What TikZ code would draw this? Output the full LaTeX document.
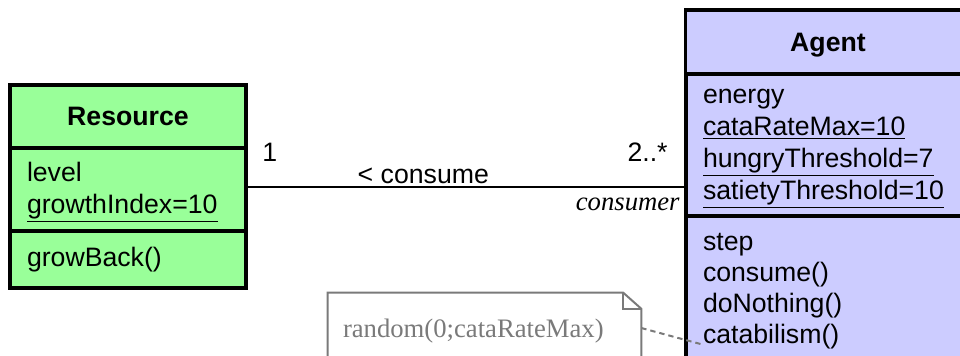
\documentclass[tikz,border=0pt]{standalone}
\usepackage{fontspec}
\setmainfont{Liberation Serif}
\setsansfont{Liberation Sans}
\usetikzlibrary{positioning}
\newlength{\px}\setlength{\px}{0.75pt}
\definecolor{resgreen}{HTML}{99FF99}
\definecolor{agentlilac}{HTML}{CCCCFF}
\definecolor{notegray}{HTML}{7A7A7A}

\begin{document}
\begin{tikzpicture}[
  x=\px, y=-\px,
  font=\sffamily\fontsize{20}{24}\selectfont,
  compart/.style={draw=black, fill=#1, line width=2.6pt, outer sep=0pt, inner ysep=0pt},
  title/.style={compart=#1, font=\sffamily\bfseries\fontsize{20}{24}\selectfont},
  fields/.style={compart=#1, align=left, inner xsep=17\px},
  lower/.style={execute at begin node={\rule{0pt}{#1\px}}},
  assoc/.style={line width=1.5pt},
  notebox/.style={draw=notegray, line width=1.5pt},
  anchorline/.style={draw=notegray, line width=1.5pt, dash pattern=on 4pt off 3pt},
]
\useasboundingbox (0,0) rectangle (960,356);
\clip (0,0) rectangle (960,356);

% Resource class
\node[title=resgreen, anchor=north west, minimum width=236\px, minimum height=63\px] (resname) at (10,85) {Resource};
\node[fields=resgreen, text width=202\px, minimum height=83\px, below=0pt of resname, lower=25] (resattr) {level\\\underline{growthIndex=10}};
\node[fields=resgreen, text width=202\px, minimum height=57\px, below=0pt of resattr] (resops) {growBack()};

% Agent class
\node[title=agentlilac, anchor=north west, minimum width=285\px, minimum height=64\px, lower=24] (agname) at (685.5,10) {Agent};
\node[fields=agentlilac, text width=250\px, minimum height=142\px, below=0pt of agname, lower=22] (agattr) {energy\\\underline{cataRateMax=10}\\\underline{hungryThreshold=7}\\\underline{satietyThreshold=10}};
\node[fields=agentlilac, text width=250\px, minimum height=144\px, below=0pt of agattr, lower=24,
  font=\sffamily\fontsize{20}{23.25}\selectfont] (agops) {step\\consume()\\doNothing()\\catabilism()};

% association
\coordinate (assocL) at ([yshift=2.5\px]resattr.east);
\draw[assoc] (assocL) -- (assocL -| agattr.west)
  node[at start, anchor=base west, xshift=11\px, yshift=25\px] {1}
  node[pos=0.403, anchor=base, yshift=3\px] {< consume}
  node[at end, anchor=base east, xshift=-13\px, yshift=25\px] {2..*}
  node[at end, anchor=base east, xshift=-1\px, yshift=-23\px, font=\rmfamily\itshape\fontsize{20}{24}\selectfont] {consumer};

% note
\node[fill=white, text=notegray, font=\rmfamily\fontsize{20}{24}\selectfont, align=left,
  text width=283\px, inner xsep=15\px, minimum height=70\px, lower=24] (note) at (484.5,328) {random(0;cataRateMax)};
\draw[notebox] (note.south west) -- (note.north west) -- ([xshift=-18\px]note.north east)
  -- ([yshift=-16\px]note.north east) -- (note.south east);
\draw[notebox] ([xshift=-18\px]note.north east) |- ([yshift=-16\px]note.north east);
\coordinate (catab) at ([xshift=14.5\px, yshift=16\px]agops.south west);
\draw[anchorline] (note.east) -- (catab);
\end{tikzpicture}
\end{document}
